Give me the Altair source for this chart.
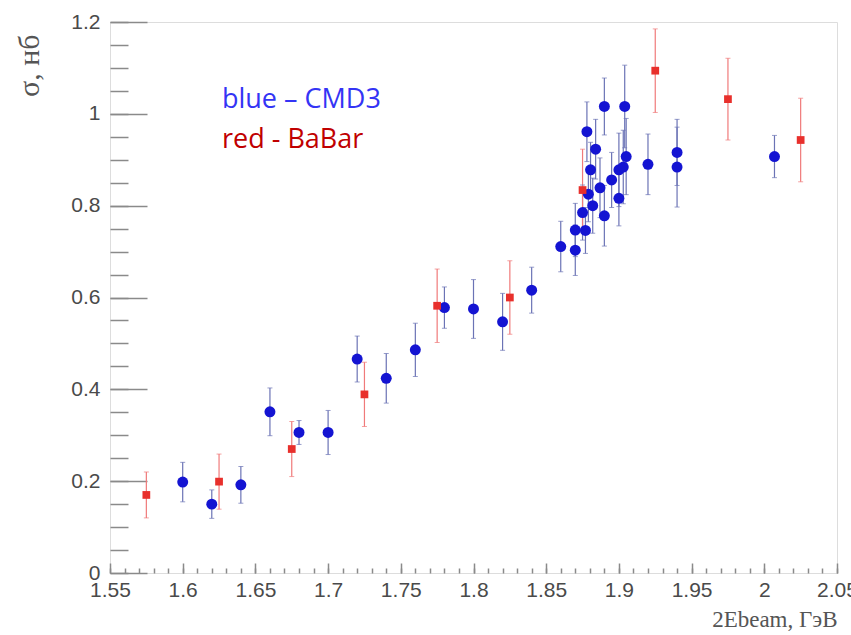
import altair as alt
import pandas as pd

# ---- data ----
cmd3_x = [1.600, 1.620, 1.640, 1.660, 1.680, 1.700, 1.720, 1.740, 1.760, 1.780,
          1.800, 1.820, 1.840, 1.860, 1.870, 1.870, 1.875, 1.877, 1.878, 1.879,
          1.8805, 1.882, 1.884, 1.887, 1.890, 1.890, 1.895, 1.900, 1.900, 1.903,
          1.904, 1.905, 1.920, 1.940, 1.940, 2.007]
cmd3_y = [0.198, 0.150, 0.192, 0.351, 0.306, 0.306, 0.466, 0.424, 0.486, 0.578,
          0.575, 0.547, 0.616, 0.711, 0.703, 0.747, 0.785, 0.746, 0.961, 0.825,
          0.878, 0.800, 0.923, 0.839, 1.016, 0.778, 0.856, 0.816, 0.878, 0.884,
          1.016, 0.907, 0.890, 0.916, 0.884, 0.907]
cmd3_err = [0.043, 0.031, 0.040, 0.052, 0.026, 0.048, 0.050, 0.054, 0.058, 0.045,
            0.064, 0.062, 0.050, 0.055, 0.055, 0.058, 0.060, 0.050, 0.065, 0.060,
            0.060, 0.060, 0.065, 0.065, 0.062, 0.066, 0.060, 0.060, 0.080, 0.080,
            0.090, 0.083, 0.066, 0.072, 0.087, 0.046]

babar_x = [1.575, 1.625, 1.675, 1.725, 1.775, 1.825, 1.875, 1.925, 1.975, 2.025]
babar_y = [0.170, 0.199, 0.270, 0.389, 0.582, 0.600, 0.834, 1.094, 1.032, 0.943]
babar_err = [0.050, 0.060, 0.060, 0.070, 0.080, 0.080, 0.089, 0.091, 0.089, 0.091]

series_names = ["CMD3", "BaBar"]

x_major = [1.55, 1.6, 1.65, 1.7, 1.75, 1.8, 1.85, 1.9, 1.95, 2.0, 2.05]
x_minor = [round(1.55 + 0.01 * i, 2) for i in range(51)]
y_major = [0, 0.2, 0.4, 0.6, 0.8, 1.0, 1.2]
y_minor = [round(0.05 * i, 2) for i in range(25)]

legend_text = ["blue – CMD3", "red - BaBar"]
legend_x = [1.627, 1.627]
legend_y = [1.013, 0.926]

# ---- tables ----
df = pd.concat([
    pd.DataFrame({"x": cmd3_x, "y": cmd3_y, "err": cmd3_err, "series": "CMD3"}),
    pd.DataFrame({"x": babar_x, "y": babar_y, "err": babar_err, "series": "BaBar"}),
], ignore_index=True)
df["lo"] = df["y"] - df["err"]
df["hi"] = df["y"] + df["err"]

leg = pd.DataFrame({"text": legend_text, "x": legend_x, "y": legend_y})

# ---- styles ----
AX = "#8a8a8a"
LBL = "#4a4a4a"
xs = alt.Scale(domain=[1.55, 2.05], nice=False, zero=False)
ys = alt.Scale(domain=[0, 1.2], nice=False, zero=False)

x_major_axis = alt.Axis(
    orient="bottom", values=x_major, format="~g", offset=-10, tickSize=10,
    tickWidth=1.5, tickColor=AX, domain=False, grid=False, labelPadding=6,
    labelFontSize=21, labelFont="Liberation Sans", labelColor=LBL,
    labelFlush=False, labelOverlap=False,
    title="2Ebeam, ГэВ", titleFont="Liberation Serif", titleFontSize=23,
    titleFontWeight="normal", titleColor="#555555", titleAlign="right",
    titleBaseline="alphabetic", titleAnchor="end", titleX=727, titleY=63)
y_major_axis = alt.Axis(
    orient="left", values=y_major, format="~g", offset=-37, tickSize=37,
    tickWidth=1.5, tickColor=AX, domain=False, grid=False, labelPadding=10,
    labelFontSize=21, labelFont="Liberation Sans", labelColor=LBL,
    labelFlush=False, labelOverlap=False,
    title="σ, нб", titleFont="Liberation Serif", titleFontSize=30,
    titleFontWeight="normal", titleColor="#555555", titleAngle=270,
    titleAlign="right", titleBaseline="middle", titleX=-118, titleY=12)
x_minor_axis = alt.Axis(
    orient="bottom", values=x_minor, offset=-5, tickSize=5, tickWidth=1.5,
    tickColor=AX, domain=False, grid=False, labels=False, title="")
y_minor_axis = alt.Axis(
    orient="left", values=y_minor, offset=-18, tickSize=18, tickWidth=1.5,
    tickColor=AX, domain=False, grid=False, labels=False, title="")

err_colors = alt.Scale(domain=series_names, range=["#6b73b5", "#f07a7a"])
pt_colors = alt.Scale(domain=series_names, range=["#1414d2", "#e8302c"])
pt_shapes = alt.Scale(domain=series_names, range=["circle", "square"])
pt_sizes = alt.Scale(domain=series_names, range=[120, 60])

base = alt.Chart(df)

bars = base.mark_rule(strokeWidth=1.2).encode(
    x=alt.X("x:Q", scale=xs, axis=x_major_axis),
    y=alt.Y("lo:Q", scale=ys, axis=y_major_axis),
    y2="hi:Q",
    color=alt.Color("series:N", scale=err_colors, legend=None),
)
cap_top = base.mark_tick(orient="horizontal", size=5, thickness=1).encode(
    x=alt.X("x:Q", scale=xs, axis=None),
    y=alt.Y("hi:Q", scale=ys, axis=None),
    color=alt.Color("series:N", scale=err_colors, legend=None),
)
cap_bot = base.mark_tick(orient="horizontal", size=5, thickness=1).encode(
    x=alt.X("x:Q", scale=xs, axis=None),
    y=alt.Y("lo:Q", scale=ys, axis=None),
    color=alt.Color("series:N", scale=err_colors, legend=None),
)
points = base.mark_point(filled=True, opacity=1).encode(
    x=alt.X("x:Q", scale=xs, axis=x_minor_axis),
    y=alt.Y("y:Q", scale=ys, axis=y_minor_axis),
    color=alt.Color("series:N", scale=pt_colors, legend=None),
    shape=alt.Shape("series:N", scale=pt_shapes, legend=None),
    size=alt.Size("series:N", scale=pt_sizes, legend=None),
)

text_colors = ["#3434f5", "#c00000"]
texts = []
for i, t in enumerate(legend_text):
    texts.append(
        alt.Chart(leg.iloc[[i]]).mark_text(
            align="left", baseline="alphabetic", font="Open Sans", fontSize=27,
            color=text_colors[i]
        ).encode(
            x=alt.X("x:Q", scale=xs, axis=None),
            y=alt.Y("y:Q", scale=ys, axis=None),
            text="text:N",
        )
    )

chart = alt.layer(bars, cap_top, cap_bot, points, *texts).resolve_axis(
    x="independent", y="independent"
).resolve_scale(
    color="independent"
).properties(
    width=727, height=551, autosize="none",
    padding={"left": 110, "top": 22, "right": 14, "bottom": 62},
).configure_view(
    stroke=AX, strokeWidth=2
).configure(background="white")

chart.save("out.html", embed_options={"renderer": "svg", "actions": False})
